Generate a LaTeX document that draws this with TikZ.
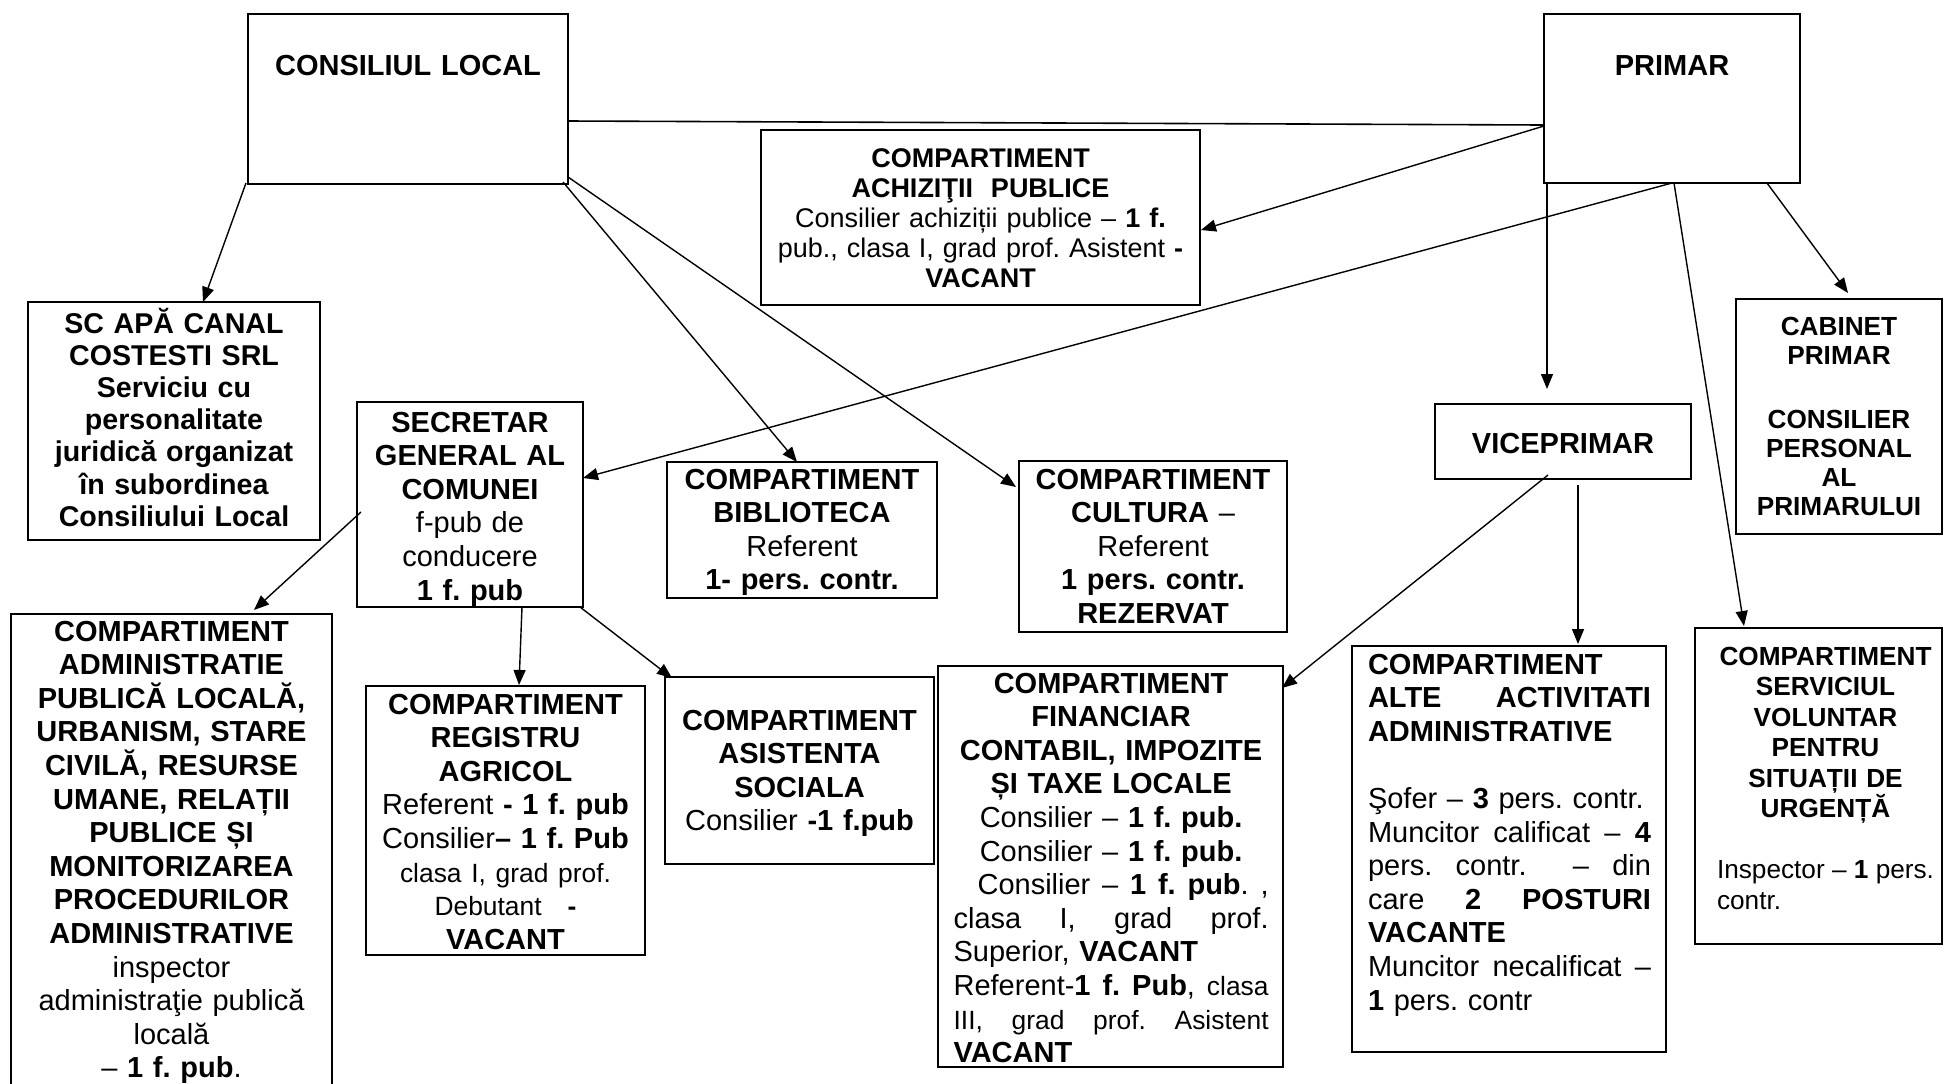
\documentclass[tikz,border=0pt]{standalone}
\usepackage{fontspec}
\setmainfont{Liberation Sans}
\usetikzlibrary{arrows.meta,calc}
\frenchspacing
\newcommand\mkbox[5]{\node[box, minimum width={(#4-#2)*0.5pt}, minimum height={(#5-#3)*0.5pt}] (#1) at (#2,#3) {};}
\newcommand\smf{\fontsize{13.2}{16.8}\selectfont}
\newcommand\cl[1]{\makebox[\linewidth]{#1}}
\newcommand\jl[1]{{\spaceskip=0pt\xspaceskip=0pt\makebox[\linewidth][s]{#1}}}
\tikzset{
  box/.style={draw, line width=1pt, inner sep=0pt, outer sep=0pt, anchor=north west},
  tx/.style={inner sep=0pt, outer sep=0pt, anchor=base, align=center},
  txl/.style={inner sep=0pt, outer sep=0pt, anchor=base west, align=left},
  fA/.style={font=\fontsize{14.5}{16.8}\selectfont},
  fSC/.style={font=\fontsize{14.3}{16.1}\selectfont},
  fACH/.style={font=\fontsize{13.5}{15}\selectfont},
  fSV/.style={font=\fontsize{13.1}{15.25}\selectfont},
  fCAB/.style={font=\fontsize{13.1}{14.5}\selectfont},
  arr/.style={line width=0.7pt, -{Triangle[length=7.5pt,width=6pt]}},
  ln/.style={line width=0.8pt}
}
\begin{document}
\begin{tikzpicture}[x=0.5pt,y=-0.5pt]
\useasboundingbox (0,0) rectangle (1944,1083);
\fill[white] (0,0) rectangle (1944,1083);
\clip (0,0) rectangle (1944,1083);
% boxes
\mkbox{cl}{248}{14}{568}{184}
\mkbox{pr}{1544}{14}{1800}{183}
\mkbox{ach}{761}{130}{1200}{305}
\mkbox{sc}{28}{302}{320}{540}
\mkbox{sec}{357}{402}{583}{607}
\mkbox{adm}{11}{614}{332}{1110}
\mkbox{reg}{366}{686}{645}{955}
\mkbox{bib}{667}{462}{937}{598}
\mkbox{cult}{1019}{461}{1287}{632}
\mkbox{asis}{665}{677}{934}{864}
\mkbox{fin}{938}{666}{1283}{1067}
\mkbox{vice}{1435}{404}{1691}{479}
\mkbox{alte}{1352}{646}{1666}{1052}
\mkbox{serv}{1695}{628}{1942}{944}
\mkbox{cab}{1736}{299}{1942}{534}
% texts
\node[tx,fA,text width=150pt] (tcl) at (408,75) {\textbf{CONSILIUL LOCAL}};
\node[tx,fA,text width=120pt] (tpr) at (1672,75) {\textbf{PRIMAR}};
\node[tx,fACH,text width=215pt] (tach) at (980.5,167) {\textbf{COMPARTIMENT}\\\textbf{ACHIZIŢII\ \ PUBLICE}\\Consilier achiziții publice – \textbf{1 f.}\\pub., clasa I, grad prof. Asistent \textbf{-}\\\textbf{VACANT}};
\node[tx,fSC,text width=144pt] (tsc) at (174,333) {\textbf{SC APĂ CANAL}\\\textbf{COSTESTI SRL}\\\textbf{Serviciu cu}\\\textbf{personalitate}\\\textbf{juridică organizat}\\\textbf{în subordinea}\\\textbf{Consiliului Local}};
\node[tx,fA,text width=111pt] (tsec) at (470,432) {\textbf{SECRETAR}\\\textbf{GENERAL AL}\\\textbf{COMUNEI}\\f-pub de\\conducere\\\textbf{1 f. pub}};
\node[tx,fA,text width=158pt] (tadm) at (171.5,641) {\textbf{COMPARTIMENT}\\\textbf{ADMINISTRATIE}\\\textbf{PUBLICĂ LOCALĂ,}\\\textbf{URBANISM, STARE}\\\textbf{CIVILĂ, RESURSE}\\\textbf{UMANE, RELAȚII}\\\textbf{PUBLICE ȘI}\\\textbf{MONITORIZAREA}\\\textbf{PROCEDURILOR}\\\textbf{ADMINISTRATIVE}\\inspector\\administraţie publică\\locală\\– \textbf{1 f. pub}.};
\node[tx,fA,text width=137pt] (treg) at (505.5,714) {\textbf{COMPARTIMENT}\\\textbf{REGISTRU}\hspace*{16pt}\\\textbf{AGRICOL}\hspace*{16pt}\\Referent \textbf{- 1 f. pub}\\Consilier\textbf{– 1 f. Pub}\\{\smf clasa I, grad prof.}\\{\smf Debutant\hspace{13pt}\textbf{-}}\\\textbf{VACANT}};
\node[tx,fA,text width=133pt] (tbib) at (802,489) {\textbf{COMPARTIMENT}\\\textbf{BIBLIOTECA}\\Referent\\\textbf{1- pers. contr.}};
\node[tx,fA,text width=132pt] (tcult) at (1153,489) {\textbf{COMPARTIMENT}\\\textbf{CULTURA} –\\Referent\\\textbf{1 pers. contr.}\\\textbf{REZERVAT}};
\node[tx,fA,text width=133pt] (tasis) at (799.5,730) {\textbf{COMPARTIMENT}\\\textbf{ASISTENTA}\\\textbf{SOCIALA}\\Consilier \textbf{-1 f.pub}};
\node[txl,fA,text width=157.5pt] (tfin) at (953.6,693) {\cl{\textbf{COMPARTIMENT}}\\\cl{\textbf{FINANCIAR}}\\\cl{\textbf{CONTABIL, IMPOZITE}}\\\cl{\textbf{ȘI TAXE LOCALE}}\\\cl{Consilier – \textbf{1 f. pub.}}\\\cl{Consilier – \textbf{1 f. pub.}}\\\jl{\hspace*{12pt}Consilier – \textbf{1 f. pub}. ,}\\\jl{clasa I, grad prof.}\\Superior, \textbf{VACANT}\\\jl{Referent-\textbf{1 f. Pub}, {\smf clasa}}\\\jl{\smf III, grad prof. Asistent}\\\textbf{VACANT}};
\node[tx,fA,text width=124pt] (tvice) at (1563,453) {\textbf{VICEPRIMAR}};
\node[txl,fA,text width=141.5pt] (talte) at (1368,674) {\textbf{COMPARTIMENT}\\\jl{\textbf{ALTE ACTIVITATI}}\\\textbf{ADMINISTRATIVE}\\\mbox{}\\Şofer – \textbf{3} pers. contr.\\\jl{Muncitor calificat – \textbf{4}}\\\jl{pers. contr.\ \ – din}\\\jl{care \textbf{2 POSTURI}}\\\textbf{VACANTE}\\\jl{Muncitor necalificat –}\\\textbf{1} pers. contr};
\node[txl,fSV,text width=108.5pt] (tserv) at (1717,665) {\cl{\textbf{COMPARTIMENT}}\\\cl{\textbf{SERVICIUL}}\\\cl{\textbf{VOLUNTAR}}\\\cl{\textbf{PENTRU}}\\\cl{\textbf{SITUAȚII DE}}\\\cl{\textbf{URGENȚĂ}}\\\mbox{}\\\jl{Inspector – \textbf{1} pers.}\\contr.};
\node[tx,fCAB,text width=100pt] (tcab) at (1839,335) {\textbf{CABINET}\\\textbf{PRIMAR}\\\mbox{}\\[3pt]\textbf{CONSILIER}\\\textbf{PERSONAL}\\\textbf{AL}\\\textbf{PRIMARULUI}};
% connectors
\draw[arr] ($(cl.south west)+(-2,-1)$) -- ($(sc.north west)+(175,0)$);
\draw[arr] ($(cl.south east)+(-5,-2)$) -- ($(bib.north west)+(130,0)$);
\draw[arr] ($(cl.south east)+(0,-7)$) -- ($(cult.north west)+(-3,26)$);
\draw[ln] ($(cl.east)+(0,22)$) -- ($(pr.west)+(0,26.5)$);
\draw[arr] ($(pr.west)+(0,27.5)$) -- ($(ach.east)+(1,12.5)$);
\draw[arr] (pr.south) -- ($(sec.east)+(0,-26.5)$);
\draw[arr] ($(pr.south west)+(3,0)$) -- ($(vice.north)+(-16,-15)$);
\draw[arr] ($(pr.south)+(2,0)$) -- ($(serv.north west)+(49,-2)$);
\draw[arr] ($(pr.south east)+(-33,0)$) -- ($(cab.north)+(9,-6)$);
\draw[arr] ($(sec.west)+(4,7.5)$) -- ($(adm.north)+(82.5,-4)$);
\draw[arr] ($(sec.south)+(52,0)$) -- ($(reg.north)+(13.5,-1)$);
\draw[arr] ($(sec.south east)+(-3,0)$) -- ($(asis.north west)+(7,1)$);
\draw[arr] ($(vice.south)+(-15,-4)$) -- ($(fin.north east)+(-1,22)$);
\draw[arr] ($(vice.south)+(15,6)$) -- ($(alte.north)+(69,-2)$);
\end{tikzpicture}
\end{document}
